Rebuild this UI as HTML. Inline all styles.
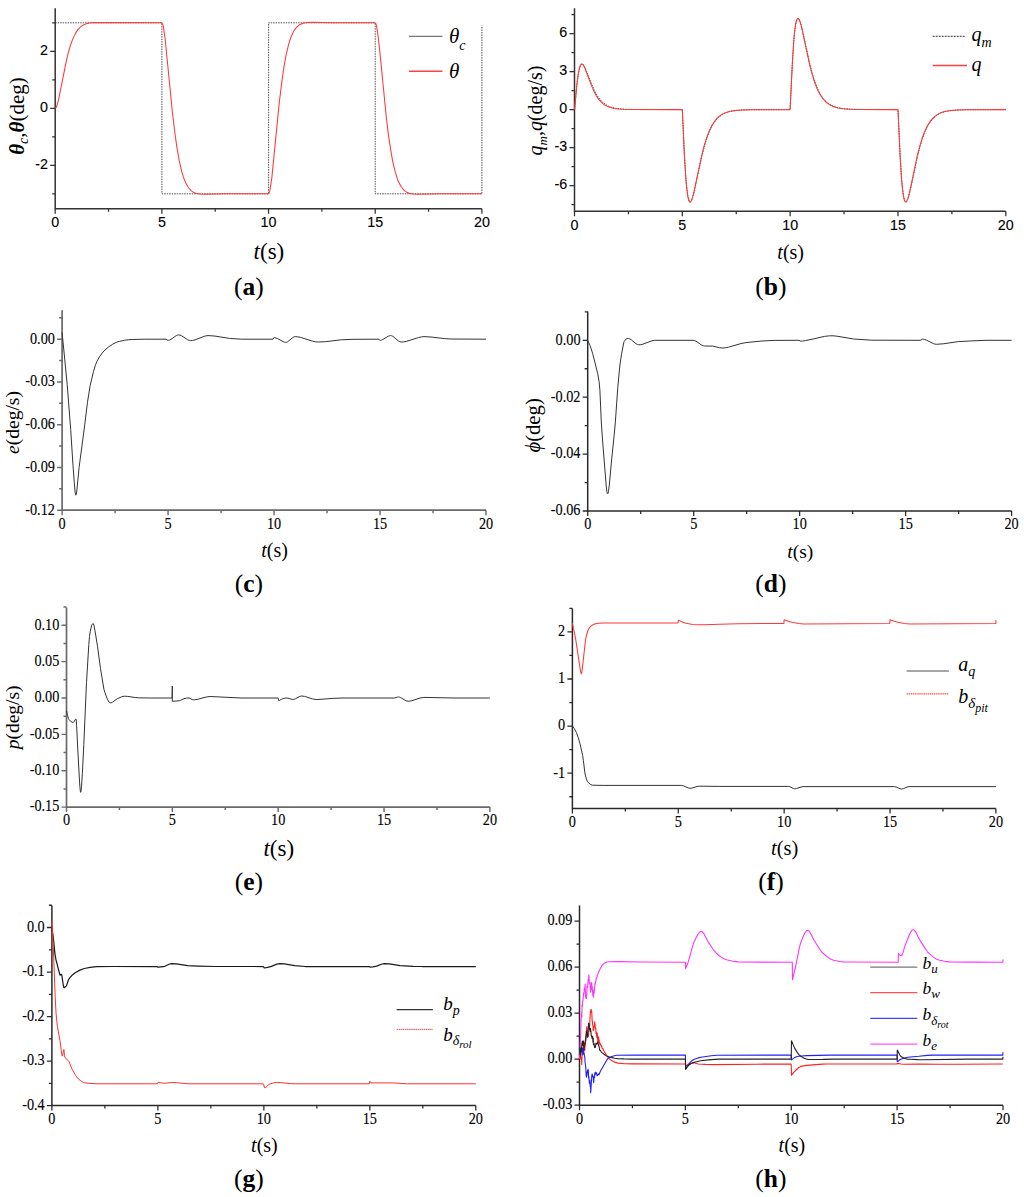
<!DOCTYPE html>
<html><head><meta charset="utf-8"><style>
html,body{margin:0;padding:0;background:#fff;}
svg{display:block;}
</style></head><body>
<svg width="1024" height="1197" viewBox="0 0 1024 1197">
<rect width="1024" height="1197" fill="#fff"/>
<path d="M55.20,8.20V209.45M54.45,208.70H481.90" stroke="#333" stroke-width="1.5" fill="none"/>
<path d="M55.20,165.30h-5M55.20,108.30h-5M55.20,51.30h-5M55.20,193.80h-3M55.20,136.80h-3M55.20,79.80h-3M55.20,22.80h-3M55.20,208.70v5M161.88,208.70v5M268.55,208.70v5M375.22,208.70v5M481.90,208.70v5M108.54,208.70v3M215.21,208.70v3M321.89,208.70v3M428.56,208.70v3" stroke="#333" stroke-width="1.27" fill="none"/>
<text transform="translate(47.90,168.60) scale(1,1)" text-anchor="end" font-family='"Liberation Sans", sans-serif' font-size="14.3" stroke="#000" stroke-width="0.12">-2</text>
<text transform="translate(47.90,111.60) scale(1,1)" text-anchor="end" font-family='"Liberation Sans", sans-serif' font-size="14.3" stroke="#000" stroke-width="0.12">0</text>
<text transform="translate(47.90,54.60) scale(1,1)" text-anchor="end" font-family='"Liberation Sans", sans-serif' font-size="14.3" stroke="#000" stroke-width="0.12">2</text>
<text transform="translate(55.20,227.00) scale(1,1)" text-anchor="middle" font-family='"Liberation Sans", sans-serif' font-size="14.3" stroke="#000" stroke-width="0.12">0</text>
<text transform="translate(161.88,227.00) scale(1,1)" text-anchor="middle" font-family='"Liberation Sans", sans-serif' font-size="14.3" stroke="#000" stroke-width="0.12">5</text>
<text transform="translate(268.55,227.00) scale(1,1)" text-anchor="middle" font-family='"Liberation Sans", sans-serif' font-size="14.3" stroke="#000" stroke-width="0.12">10</text>
<text transform="translate(375.22,227.00) scale(1,1)" text-anchor="middle" font-family='"Liberation Sans", sans-serif' font-size="14.3" stroke="#000" stroke-width="0.12">15</text>
<text transform="translate(481.90,227.00) scale(1,1)" text-anchor="middle" font-family='"Liberation Sans", sans-serif' font-size="14.3" stroke="#000" stroke-width="0.12">20</text>
<path d="M55.2,22.8L161.9,22.8L161.9,193.8L268.6,193.8L268.6,22.8L375.2,22.8L375.2,193.8L481.9,193.8L481.9,25.6" stroke="#333" stroke-width="0.85" fill="none" stroke-linejoin="round" stroke-dasharray="1.5,1"/>
<path d="M55.2,108.3L55.8,107.9L56.6,106.6L58.3,100.9L66.0,62.6L68.2,53.2L70.3,45.7L72.7,39.1L75.3,33.6L77.9,29.6L80.9,26.5L83.4,24.9L86.2,23.8L89.5,23.0L93.7,22.6L162.0,22.8L162.6,23.9L163.4,26.8L165.1,38.5L172.5,113.2L174.8,132.2L176.9,147.4L179.3,160.8L181.8,171.8L183.2,176.4L184.6,180.3L186.1,183.6L187.6,186.3L190.0,189.5L191.4,190.8L192.9,191.9L196.2,193.4L200.4,194.1L205.2,194.3L226.6,193.8L268.7,193.8L269.3,192.7L270.0,189.8L271.8,178.1L279.2,103.4L281.5,84.4L283.6,69.2L285.9,55.8L288.5,44.8L289.9,40.2L291.3,36.3L292.8,33.0L294.3,30.3L296.7,27.1L298.1,25.8L299.6,24.7L302.9,23.2L307.1,22.5L311.9,22.3L333.6,22.8L375.2,22.8L375.9,23.6L376.6,26.3L378.3,37.7L379.9,52.4L386.0,114.2L388.2,133.1L390.4,148.1L392.7,161.3L395.3,172.2L397.9,180.3L399.4,183.6L400.9,186.3L403.4,189.5L404.8,190.8L406.3,191.9L409.6,193.4L413.7,194.1L418.5,194.3L440.3,193.8L481.9,193.8" stroke="#ff3838" stroke-width="1.05" fill="none" stroke-linejoin="round"/>
<path d="M409,36.3H442.4" stroke="#555" stroke-width="1"/>
<path d="M409,71.3H442.4" stroke="#ff4040" stroke-width="1.4"/>
<text x="449" y="43" font-family='"Liberation Serif", serif' font-size="21" font-style="italic">θ<tspan font-size="14" dy="7">c</tspan></text>
<text x="449" y="78" font-family='"Liberation Serif", serif' font-size="21" font-style="italic">θ</text>
<text x="268.95" y="259.00" text-anchor="middle" font-family='"Liberation Serif", serif' font-size="23"><tspan font-style="italic">t</tspan>(s)</text>
<text x="248.85" y="294.90" text-anchor="middle" font-family='"Liberation Serif", serif' font-size="25.5">(<tspan font-weight="bold">a</tspan>)</text>
<text transform="translate(24.00,116.00) rotate(-90)" text-anchor="middle" font-family='"Liberation Serif", serif' font-size="21"><tspan font-style="italic" font-weight="bold">θ</tspan><tspan font-style="italic" font-size="14" dy="4">c</tspan><tspan dy="-4">,</tspan><tspan font-style="italic" font-weight="bold">θ</tspan>(deg)</text>
<path d="M574.50,8.20V212.05M573.75,211.30H1005.80" stroke="#333" stroke-width="1.5" fill="none"/>
<path d="M574.50,185.60h-5M574.50,147.60h-5M574.50,109.60h-5M574.50,71.60h-5M574.50,33.60h-5M574.50,204.60h-3M574.50,166.60h-3M574.50,128.60h-3M574.50,90.60h-3M574.50,52.60h-3M574.50,14.60h-3M574.50,211.30v5M682.33,211.30v5M790.15,211.30v5M897.97,211.30v5M1005.80,211.30v5M628.41,211.30v3M736.24,211.30v3M844.06,211.30v3M951.89,211.30v3" stroke="#333" stroke-width="1.27" fill="none"/>
<text transform="translate(567.20,188.90) scale(1,1)" text-anchor="end" font-family='"Liberation Sans", sans-serif' font-size="14.3" stroke="#000" stroke-width="0.12">-6</text>
<text transform="translate(567.20,150.90) scale(1,1)" text-anchor="end" font-family='"Liberation Sans", sans-serif' font-size="14.3" stroke="#000" stroke-width="0.12">-3</text>
<text transform="translate(567.20,112.90) scale(1,1)" text-anchor="end" font-family='"Liberation Sans", sans-serif' font-size="14.3" stroke="#000" stroke-width="0.12">0</text>
<text transform="translate(567.20,74.90) scale(1,1)" text-anchor="end" font-family='"Liberation Sans", sans-serif' font-size="14.3" stroke="#000" stroke-width="0.12">3</text>
<text transform="translate(567.20,36.90) scale(1,1)" text-anchor="end" font-family='"Liberation Sans", sans-serif' font-size="14.3" stroke="#000" stroke-width="0.12">6</text>
<text transform="translate(574.50,230.10) scale(1,1)" text-anchor="middle" font-family='"Liberation Sans", sans-serif' font-size="14.3" stroke="#000" stroke-width="0.12">0</text>
<text transform="translate(682.33,230.10) scale(1,1)" text-anchor="middle" font-family='"Liberation Sans", sans-serif' font-size="14.3" stroke="#000" stroke-width="0.12">5</text>
<text transform="translate(790.15,230.10) scale(1,1)" text-anchor="middle" font-family='"Liberation Sans", sans-serif' font-size="14.3" stroke="#000" stroke-width="0.12">10</text>
<text transform="translate(897.97,230.10) scale(1,1)" text-anchor="middle" font-family='"Liberation Sans", sans-serif' font-size="14.3" stroke="#000" stroke-width="0.12">15</text>
<text transform="translate(1005.80,230.10) scale(1,1)" text-anchor="middle" font-family='"Liberation Sans", sans-serif' font-size="14.3" stroke="#000" stroke-width="0.12">20</text>
<path d="M574.5,109.6L576.8,85.4L578.3,73.8L579.2,69.4L580.1,66.5L581.0,64.6L581.5,64.2L582.0,64.0L582.7,64.2L583.4,64.9L585.1,67.7L592.7,86.8L595.0,91.7L597.3,95.7L599.8,99.3L602.4,102.1L605.3,104.4L608.5,106.2L611.7,107.4L615.5,108.3L619.9,108.9L625.3,109.3L639.8,109.6L682.3,109.6L684.5,156.3L686.1,181.1L687.0,190.3L688.0,196.8L689.1,200.8L689.6,201.7L690.2,202.1L691.0,201.6L691.7,200.3L693.5,194.5L701.8,156.4L704.3,146.6L706.7,138.6L709.3,131.5L712.1,125.7L715.2,121.0L718.4,117.4L721.9,114.7L725.9,112.7L730.5,111.3L736.2,110.4L742.5,110.0L751.2,109.7L790.1,109.6L792.3,64.5L793.9,39.7L794.8,30.5L795.8,23.9L796.8,19.9L797.3,18.9L797.9,18.4L798.6,18.7L799.4,19.9L800.3,22.1L801.3,25.4L803.0,32.9L809.7,63.7L812.1,73.3L814.6,81.1L817.2,88.1L820.0,93.7L823.0,98.3L826.3,102.0L829.7,104.6L833.7,106.5L838.3,107.9L844.1,108.8L850.4,109.2L859.0,109.5L898.0,109.6L900.1,155.3L901.7,180.4L902.6,189.8L903.5,196.2L904.6,200.4L905.1,201.5L905.6,202.0L906.4,201.8L907.2,200.6L908.1,198.3L909.1,195.0L910.9,187.4L917.5,156.2L920.0,146.4L922.5,138.3L925.1,131.3L927.8,125.6L930.8,121.0L934.1,117.4L937.5,114.7L941.5,112.7L946.2,111.3L951.9,110.4L958.2,110.0L966.8,109.7L1005.8,109.6" stroke="#222" stroke-width="0.85" fill="none" stroke-linejoin="round" stroke-dasharray="1.5,1"/>
<path d="M574.5,109.6L576.9,84.8L578.3,73.8L579.1,69.5L579.9,66.4L580.9,64.6L581.3,64.1L581.8,64.0L582.5,64.2L583.2,64.9L584.7,67.7L592.1,87.1L594.3,92.0L596.4,96.0L598.9,99.6L601.4,102.4L604.2,104.7L607.3,106.4L610.4,107.6L614.0,108.4L618.3,109.0L623.6,109.3L637.7,109.6L682.3,109.6L684.4,155.9L686.0,181.1L687.0,190.4L687.9,196.9L689.0,200.8L689.5,201.7L690.1,202.1L690.8,201.6L691.6,200.2L693.4,194.6L701.5,156.4L703.9,146.7L706.4,138.6L709.0,131.4L711.8,125.7L714.8,120.9L718.1,117.2L721.5,114.6L725.5,112.7L730.1,111.3L735.8,110.4L742.1,109.9L750.7,109.7L790.1,109.6L792.3,64.0L793.8,39.8L794.7,30.4L795.6,24.0L796.7,20.0L797.2,18.9L797.8,18.4L798.5,18.7L799.3,19.9L800.1,22.1L801.1,25.4L802.8,32.7L809.4,63.6L811.9,73.4L814.3,81.3L816.9,88.3L819.7,94.0L822.7,98.5L825.9,102.1L829.4,104.7L833.3,106.6L838.0,107.9L843.6,108.8L849.9,109.3L858.5,109.5L898.0,109.6L900.1,155.9L901.6,180.4L902.6,189.9L903.5,196.4L904.4,200.3L905.0,201.5L905.5,202.0L905.9,202.0L906.3,201.8L907.1,200.6L907.9,198.4L908.9,195.0L910.6,187.6L917.2,156.2L919.7,146.3L922.1,138.3L924.8,131.2L927.5,125.5L930.5,120.9L933.8,117.2L937.2,114.6L941.2,112.6L945.8,111.3L951.5,110.4L957.8,109.9L966.3,109.7L1005.8,109.6" stroke="#ff3838" stroke-width="1.05" fill="none" stroke-linejoin="round"/>
<path d="M932.7,36.3H965" stroke="#333" stroke-width="1" stroke-dasharray="2,1"/>
<path d="M932.7,65.5H967" stroke="#ff4040" stroke-width="1.4"/>
<text x="971.4" y="41" font-family='"Liberation Serif", serif' font-size="20" font-style="italic">q<tspan font-size="14" dy="6">m</tspan></text>
<text x="971.4" y="71" font-family='"Liberation Serif", serif' font-size="20" font-style="italic">q</text>
<text x="790.70" y="259.40" text-anchor="middle" font-family='"Liberation Serif", serif' font-size="20"><tspan font-style="italic">t</tspan>(s)</text>
<text x="770.90" y="294.90" text-anchor="middle" font-family='"Liberation Serif", serif' font-size="25.5">(<tspan font-weight="bold">b</tspan>)</text>
<text transform="translate(541.50,110.50) rotate(-90)" text-anchor="middle" font-family='"Liberation Serif", serif' font-size="20"><tspan font-style="italic">q</tspan><tspan font-style="italic" font-size="13" dy="5">m</tspan><tspan dy="-5">,</tspan><tspan font-style="italic">q</tspan>(deg/s)</text>
<path d="M62.10,310.30V511.05M61.25,510.20H486.00" stroke="#6a6a6a" stroke-width="1.7" fill="none"/>
<path d="M62.10,339.20h-5M62.10,381.95h-5M62.10,424.70h-5M62.10,467.45h-5M62.10,510.20h-5M62.10,317.82h-3M62.10,360.57h-3M62.10,403.32h-3M62.10,446.07h-3M62.10,488.82h-3M62.10,510.20v5M168.07,510.20v5M274.05,510.20v5M380.03,510.20v5M486.00,510.20v5M115.09,510.20v3M221.06,510.20v3M327.04,510.20v3M433.01,510.20v3" stroke="#6a6a6a" stroke-width="1.44" fill="none"/>
<text transform="translate(54.90,343.50) scale(0.95,1.06)" text-anchor="end" font-family='"Liberation Serif", serif' font-size="15" stroke="#000" stroke-width="0.12">0.00</text>
<text transform="translate(54.90,386.25) scale(0.95,1.06)" text-anchor="end" font-family='"Liberation Serif", serif' font-size="15" stroke="#000" stroke-width="0.12">-0.03</text>
<text transform="translate(54.90,429.00) scale(0.95,1.06)" text-anchor="end" font-family='"Liberation Serif", serif' font-size="15" stroke="#000" stroke-width="0.12">-0.06</text>
<text transform="translate(54.90,471.75) scale(0.95,1.06)" text-anchor="end" font-family='"Liberation Serif", serif' font-size="15" stroke="#000" stroke-width="0.12">-0.09</text>
<text transform="translate(54.90,514.50) scale(0.95,1.06)" text-anchor="end" font-family='"Liberation Serif", serif' font-size="15" stroke="#000" stroke-width="0.12">-0.12</text>
<text transform="translate(62.10,528.50) scale(0.95,1.06)" text-anchor="middle" font-family='"Liberation Serif", serif' font-size="15" stroke="#000" stroke-width="0.12">0</text>
<text transform="translate(168.07,528.50) scale(0.95,1.06)" text-anchor="middle" font-family='"Liberation Serif", serif' font-size="15" stroke="#000" stroke-width="0.12">5</text>
<text transform="translate(274.05,528.50) scale(0.95,1.06)" text-anchor="middle" font-family='"Liberation Serif", serif' font-size="15" stroke="#000" stroke-width="0.12">10</text>
<text transform="translate(380.03,528.50) scale(0.95,1.06)" text-anchor="middle" font-family='"Liberation Serif", serif' font-size="15" stroke="#000" stroke-width="0.12">15</text>
<text transform="translate(486.00,528.50) scale(0.95,1.06)" text-anchor="middle" font-family='"Liberation Serif", serif' font-size="15" stroke="#000" stroke-width="0.12">20</text>
<path d="M62.1,332.5L67.2,384.4L70.7,429.6L73.0,465.5L74.3,482.8L75.1,491.9L75.5,494.5L75.8,495.2L76.2,494.6L76.8,491.1L79.1,467.4L84.7,425.2L87.4,402.8L90.2,385.3L93.5,371.5L95.2,365.8L96.9,361.4L99.4,356.9L102.1,353.1L105.1,349.8L108.3,347.1L112.8,344.1L116.9,342.1L119.2,341.4L124.6,340.3L128.5,339.7L132.3,339.5L144.1,339.2L166.0,339.2L167.7,340.2L168.5,340.3L169.7,340.0L170.9,339.4L176.3,335.6L177.6,335.1L178.7,334.9L180.0,335.1L181.3,335.6L187.6,339.7L189.2,340.4L190.4,340.6L192.6,340.5L195.0,339.9L204.9,336.1L207.0,335.7L209.0,335.6L215.0,336.1L229.5,338.4L241.5,339.2L273.0,339.2L273.8,337.7L274.3,337.5L277.4,338.5L283.2,341.7L284.4,342.2L285.7,342.3L286.7,342.2L287.7,341.7L292.8,337.6L294.1,336.9L295.2,336.6L297.6,336.8L300.3,337.3L312.7,341.2L315.7,341.8L318.4,342.0L325.3,341.7L341.3,339.8L353.0,339.3L379.0,339.2L379.8,340.3L380.4,340.3L381.5,340.1L382.8,339.5L388.3,336.2L389.5,335.8L390.6,335.6L391.7,335.8L392.9,336.4L398.5,341.0L399.8,341.7L401.1,342.0L403.6,341.9L406.3,341.4L418.4,337.6L421.4,336.9L423.9,336.6L430.9,337.0L444.4,338.6L450.1,339.0L486.0,339.2" stroke="#333" stroke-width="1.0" fill="none" stroke-linejoin="round"/>
<text x="274.50" y="556.70" text-anchor="middle" font-family='"Liberation Serif", serif' font-size="20"><tspan font-style="italic">t</tspan>(s)</text>
<text x="248.85" y="591.90" text-anchor="middle" font-family='"Liberation Serif", serif' font-size="25.5">(<tspan font-weight="bold">c</tspan>)</text>
<text transform="translate(19.30,422.50) rotate(-90)" text-anchor="middle" font-family='"Liberation Serif", serif' font-size="19.5"><tspan font-style="italic">e</tspan>(deg/s)</text>
<path d="M587.70,311.60V511.75M586.95,511.00H1011.60" stroke="#2a2a2a" stroke-width="1.5" fill="none"/>
<path d="M587.70,340.30h-5M587.70,397.20h-5M587.70,454.10h-5M587.70,511.00h-5M587.70,311.85h-3M587.70,368.75h-3M587.70,425.65h-3M587.70,482.55h-3M587.70,511.00v5M693.68,511.00v5M799.65,511.00v5M905.62,511.00v5M1011.60,511.00v5M640.69,511.00v3M746.66,511.00v3M852.64,511.00v3M958.61,511.00v3" stroke="#2a2a2a" stroke-width="1.27" fill="none"/>
<text transform="translate(580.50,344.60) scale(0.95,1.06)" text-anchor="end" font-family='"Liberation Serif", serif' font-size="15" stroke="#000" stroke-width="0.12">0.00</text>
<text transform="translate(580.50,401.50) scale(0.95,1.06)" text-anchor="end" font-family='"Liberation Serif", serif' font-size="15" stroke="#000" stroke-width="0.12">-0.02</text>
<text transform="translate(580.50,458.40) scale(0.95,1.06)" text-anchor="end" font-family='"Liberation Serif", serif' font-size="15" stroke="#000" stroke-width="0.12">-0.04</text>
<text transform="translate(580.50,515.30) scale(0.95,1.06)" text-anchor="end" font-family='"Liberation Serif", serif' font-size="15" stroke="#000" stroke-width="0.12">-0.06</text>
<text transform="translate(587.70,529.30) scale(0.95,1.06)" text-anchor="middle" font-family='"Liberation Serif", serif' font-size="15" stroke="#000" stroke-width="0.12">0</text>
<text transform="translate(693.68,529.30) scale(0.95,1.06)" text-anchor="middle" font-family='"Liberation Serif", serif' font-size="15" stroke="#000" stroke-width="0.12">5</text>
<text transform="translate(799.65,529.30) scale(0.95,1.06)" text-anchor="middle" font-family='"Liberation Serif", serif' font-size="15" stroke="#000" stroke-width="0.12">10</text>
<text transform="translate(905.62,529.30) scale(0.95,1.06)" text-anchor="middle" font-family='"Liberation Serif", serif' font-size="15" stroke="#000" stroke-width="0.12">15</text>
<text transform="translate(1011.60,529.30) scale(0.95,1.06)" text-anchor="middle" font-family='"Liberation Serif", serif' font-size="15" stroke="#000" stroke-width="0.12">20</text>
<path d="M587.7,340.3L590.1,345.6L592.6,353.3L597.7,373.5L599.1,381.6L599.9,390.2L601.3,422.0L602.3,436.9L606.2,485.8L606.9,491.7L607.3,493.6L607.6,493.9L608.1,493.3L608.5,491.5L609.3,485.1L611.7,458.9L614.1,435.8L615.3,422.9L617.8,387.2L619.9,365.0L621.5,354.4L623.7,342.9L624.2,341.5L625.0,340.3L626.1,339.0L627.1,338.4L628.4,338.4L630.0,339.0L631.5,340.0L636.0,343.7L637.5,344.5L638.7,344.8L640.6,344.7L642.5,344.3L651.0,341.1L654.7,340.3L693.1,340.3L694.4,340.5L695.8,341.1L701.2,344.8L703.5,345.8L704.6,346.0L712.7,346.1L719.6,347.7L722.3,348.0L725.2,347.8L728.5,347.2L740.8,343.6L745.9,342.6L761.8,341.0L774.3,340.4L799.0,340.3L800.6,341.1L802.3,341.1L805.5,340.6L814.0,338.8L824.3,336.4L829.7,335.8L833.1,335.8L836.9,336.2L853.7,339.0L871.8,340.2L920.4,340.3L921.0,340.1L922.3,339.2L923.1,339.2L924.7,339.5L926.4,340.1L933.4,343.6L935.0,344.1L936.4,344.3L943.2,343.8L958.3,341.6L969.2,341.0L986.0,340.3L1011.6,340.3" stroke="#333" stroke-width="1.0" fill="none" stroke-linejoin="round"/>
<text x="800.30" y="557.70" text-anchor="middle" font-family='"Liberation Serif", serif' font-size="19.5"><tspan font-style="italic">t</tspan>(s)</text>
<text x="770.90" y="591.90" text-anchor="middle" font-family='"Liberation Serif", serif' font-size="25.5">(<tspan font-weight="bold">d</tspan>)</text>
<text transform="translate(539.50,425.40) rotate(-90)" text-anchor="middle" font-family='"Liberation Serif", serif' font-size="20.7"><tspan font-style="italic">ϕ</tspan>(deg)</text>
<path d="M66.50,607.40V807.95M65.65,807.10H489.90" stroke="#6a6a6a" stroke-width="1.7" fill="none"/>
<path d="M66.50,625.27h-5M66.50,661.63h-5M66.50,698.00h-5M66.50,734.37h-5M66.50,770.73h-5M66.50,807.10h-5M66.50,607.08h-3M66.50,643.45h-3M66.50,679.82h-3M66.50,716.18h-3M66.50,752.55h-3M66.50,788.92h-3M66.50,807.10v5M172.35,807.10v5M278.20,807.10v5M384.05,807.10v5M489.90,807.10v5M119.42,807.10v3M225.28,807.10v3M331.12,807.10v3M436.98,807.10v3" stroke="#6a6a6a" stroke-width="1.44" fill="none"/>
<text transform="translate(59.30,629.57) scale(0.95,1.06)" text-anchor="end" font-family='"Liberation Serif", serif' font-size="15" stroke="#000" stroke-width="0.12">0.10</text>
<text transform="translate(59.30,665.93) scale(0.95,1.06)" text-anchor="end" font-family='"Liberation Serif", serif' font-size="15" stroke="#000" stroke-width="0.12">0.05</text>
<text transform="translate(59.30,702.30) scale(0.95,1.06)" text-anchor="end" font-family='"Liberation Serif", serif' font-size="15" stroke="#000" stroke-width="0.12">0.00</text>
<text transform="translate(59.30,738.67) scale(0.95,1.06)" text-anchor="end" font-family='"Liberation Serif", serif' font-size="15" stroke="#000" stroke-width="0.12">-0.05</text>
<text transform="translate(59.30,775.03) scale(0.95,1.06)" text-anchor="end" font-family='"Liberation Serif", serif' font-size="15" stroke="#000" stroke-width="0.12">-0.10</text>
<text transform="translate(59.30,811.40) scale(0.95,1.06)" text-anchor="end" font-family='"Liberation Serif", serif' font-size="15" stroke="#000" stroke-width="0.12">-0.15</text>
<text transform="translate(66.50,825.40) scale(0.95,1.06)" text-anchor="middle" font-family='"Liberation Serif", serif' font-size="15" stroke="#000" stroke-width="0.12">0</text>
<text transform="translate(172.35,825.40) scale(0.95,1.06)" text-anchor="middle" font-family='"Liberation Serif", serif' font-size="15" stroke="#000" stroke-width="0.12">5</text>
<text transform="translate(278.20,825.40) scale(0.95,1.06)" text-anchor="middle" font-family='"Liberation Serif", serif' font-size="15" stroke="#000" stroke-width="0.12">10</text>
<text transform="translate(384.05,825.40) scale(0.95,1.06)" text-anchor="middle" font-family='"Liberation Serif", serif' font-size="15" stroke="#000" stroke-width="0.12">15</text>
<text transform="translate(489.90,825.40) scale(0.95,1.06)" text-anchor="middle" font-family='"Liberation Serif", serif' font-size="15" stroke="#000" stroke-width="0.12">20</text>
<path d="M66.5,710.8L67.6,715.6L68.5,718.4L69.0,719.5L70.7,721.4L72.1,722.2L73.3,722.4L73.9,721.8L75.5,719.3L76.0,718.9L76.2,719.3L76.6,725.2L77.8,749.8L79.6,782.9L80.3,791.1L80.6,792.3L80.7,792.3L80.9,792.0L81.5,786.8L82.4,773.3L83.8,744.5L86.5,682.5L88.8,644.6L89.5,636.3L90.3,631.2L91.7,625.3L92.4,623.9L92.9,623.4L93.4,623.8L93.9,625.2L95.0,630.8L97.5,646.2L100.5,668.7L103.9,689.1L104.8,692.3L107.4,699.3L108.9,701.9L109.5,702.6L110.1,702.9L111.1,702.8L112.3,702.3L117.2,698.8L121.6,696.8L124.2,696.2L127.7,696.4L135.1,697.5L138.3,697.8L149.2,698.0L172.1,698.0L172.3,686.0L172.3,701.3L179.1,700.8L180.4,700.4L184.0,698.6L186.6,698.1L189.1,698.0L192.7,699.7L194.6,699.8L198.2,699.2L206.3,697.0L210.1,696.5L241.1,698.0L278.2,698.0L278.6,700.5L279.3,700.5L281.2,699.4L283.1,698.6L285.9,698.0L287.9,698.1L292.1,699.4L293.8,699.4L295.6,698.7L299.5,696.5L301.4,696.0L304.6,696.4L312.5,698.9L316.2,699.5L321.1,699.3L332.1,698.4L343.0,698.0L394.7,698.0L397.5,697.1L398.4,697.0L399.6,697.2L400.8,697.7L406.1,700.8L408.2,701.3L411.7,700.8L420.0,698.0L423.8,697.4L454.9,698.0L489.9,698.0" stroke="#333" stroke-width="1.0" fill="none" stroke-linejoin="round"/>
<text x="278.80" y="855.50" text-anchor="middle" font-family='"Liberation Serif", serif' font-size="23"><tspan font-style="italic">t</tspan>(s)</text>
<text x="248.85" y="889.80" text-anchor="middle" font-family='"Liberation Serif", serif' font-size="25.5">(<tspan font-weight="bold">e</tspan>)</text>
<text transform="translate(18.70,717.40) rotate(-90)" text-anchor="middle" font-family='"Liberation Serif", serif' font-size="19.5"><tspan font-style="italic">p</tspan>(deg/s)</text>
<path d="M572.40,608.50V809.25M571.65,808.50H995.90" stroke="#2a2a2a" stroke-width="1.5" fill="none"/>
<path d="M572.40,631.90h-5M572.40,679.00h-5M572.40,726.10h-5M572.40,773.20h-5M572.40,608.35h-3M572.40,655.45h-3M572.40,702.55h-3M572.40,749.65h-3M572.40,796.75h-3M572.40,808.50v5M678.27,808.50v5M784.15,808.50v5M890.02,808.50v5M995.90,808.50v5M625.34,808.50v3M731.21,808.50v3M837.09,808.50v3M942.96,808.50v3" stroke="#2a2a2a" stroke-width="1.27" fill="none"/>
<text transform="translate(565.20,636.20) scale(0.95,1.06)" text-anchor="end" font-family='"Liberation Serif", serif' font-size="15" stroke="#000" stroke-width="0.12">2</text>
<text transform="translate(565.20,683.30) scale(0.95,1.06)" text-anchor="end" font-family='"Liberation Serif", serif' font-size="15" stroke="#000" stroke-width="0.12">1</text>
<text transform="translate(565.20,730.40) scale(0.95,1.06)" text-anchor="end" font-family='"Liberation Serif", serif' font-size="15" stroke="#000" stroke-width="0.12">0</text>
<text transform="translate(565.20,777.50) scale(0.95,1.06)" text-anchor="end" font-family='"Liberation Serif", serif' font-size="15" stroke="#000" stroke-width="0.12">-1</text>
<text transform="translate(572.40,826.80) scale(0.95,1.06)" text-anchor="middle" font-family='"Liberation Serif", serif' font-size="15" stroke="#000" stroke-width="0.12">0</text>
<text transform="translate(678.27,826.80) scale(0.95,1.06)" text-anchor="middle" font-family='"Liberation Serif", serif' font-size="15" stroke="#000" stroke-width="0.12">5</text>
<text transform="translate(784.15,826.80) scale(0.95,1.06)" text-anchor="middle" font-family='"Liberation Serif", serif' font-size="15" stroke="#000" stroke-width="0.12">10</text>
<text transform="translate(890.02,826.80) scale(0.95,1.06)" text-anchor="middle" font-family='"Liberation Serif", serif' font-size="15" stroke="#000" stroke-width="0.12">15</text>
<text transform="translate(995.90,826.80) scale(0.95,1.06)" text-anchor="middle" font-family='"Liberation Serif", serif' font-size="15" stroke="#000" stroke-width="0.12">20</text>
<path d="M572.4,623.4L574.0,630.5L575.7,639.4L580.5,671.0L580.9,673.0L581.3,673.8L581.7,673.0L582.2,669.7L585.5,640.1L586.6,635.1L587.7,631.0L589.1,628.2L590.5,626.6L592.1,625.2L594.5,624.0L598.6,623.3L604.0,623.0L678.1,623.0L678.3,620.1L682.9,622.3L686.0,623.3L692.8,624.4L698.1,624.8L704.4,624.8L719.6,624.2L738.0,623.7L783.9,623.4L784.1,619.7L788.4,621.3L791.9,622.3L798.6,623.4L803.9,623.9L889.8,623.4L890.0,619.7L894.3,621.3L897.8,622.3L904.5,623.4L909.8,623.9L995.9,623.4L995.9,620.1" stroke="#ff3838" stroke-width="1.05" fill="none" stroke-linejoin="round"/>
<path d="M572.4,726.1L574.3,728.6L576.4,732.6L578.1,737.2L580.0,743.7L582.6,755.3L583.4,760.6L584.9,772.9L585.3,775.1L586.4,778.8L587.4,781.4L588.3,782.6L590.6,784.5L592.5,785.2L603.1,785.4L681.5,785.4L683.6,785.9L688.1,787.9L690.0,788.3L692.1,788.0L697.0,786.5L699.3,786.2L719.9,786.4L788.5,786.4L790.0,786.8L793.4,788.5L794.6,788.7L796.5,788.5L801.0,787.0L803.1,786.6L894.4,786.6L896.1,787.0L900.1,788.7L901.6,789.0L903.3,788.7L907.1,787.0L909.0,786.6L995.9,786.6" stroke="#333" stroke-width="1.0" fill="none" stroke-linejoin="round"/>
<path d="M906.7,671H948.9" stroke="#888" stroke-width="1.3"/>
<path d="M906.7,693.9H948.9" stroke="#ff5050" stroke-width="1.1" stroke-dasharray="1.5,0.6"/>
<text x="958.3" y="670.7" font-family='"Liberation Serif", serif' font-size="20" font-style="italic">a<tspan font-size="14" dy="5">q</tspan></text>
<text x="958.3" y="703.3" font-family='"Liberation Serif", serif' font-size="20" font-style="italic">b<tspan font-size="15" dy="5">δ</tspan><tspan font-size="12" dy="4">pit</tspan></text>
<text x="784.70" y="854.60" text-anchor="middle" font-family='"Liberation Serif", serif' font-size="20.5"><tspan font-style="italic">t</tspan>(s)</text>
<text x="770.90" y="889.80" text-anchor="middle" font-family='"Liberation Serif", serif' font-size="25.5">(<tspan font-weight="bold">f</tspan>)</text>
<text transform="translate(540.00,708.00) rotate(-90)" text-anchor="middle" font-family='"Liberation Serif", serif' font-size="19.5"></text>
<path d="M51.90,905.60V1106.35M51.15,1105.60H475.80" stroke="#2a2a2a" stroke-width="1.5" fill="none"/>
<path d="M51.90,927.50h-5M51.90,972.02h-5M51.90,1016.55h-5M51.90,1061.07h-5M51.90,1105.60h-5M51.90,905.24h-3M51.90,949.76h-3M51.90,994.29h-3M51.90,1038.81h-3M51.90,1083.34h-3M51.90,1105.60v5M157.88,1105.60v5M263.85,1105.60v5M369.83,1105.60v5M475.80,1105.60v5M104.89,1105.60v3M210.86,1105.60v3M316.84,1105.60v3M422.81,1105.60v3" stroke="#2a2a2a" stroke-width="1.27" fill="none"/>
<text transform="translate(44.70,931.80) scale(0.95,1.06)" text-anchor="end" font-family='"Liberation Serif", serif' font-size="15" stroke="#000" stroke-width="0.12">0.0</text>
<text transform="translate(44.70,976.32) scale(0.95,1.06)" text-anchor="end" font-family='"Liberation Serif", serif' font-size="15" stroke="#000" stroke-width="0.12">-0.1</text>
<text transform="translate(44.70,1020.85) scale(0.95,1.06)" text-anchor="end" font-family='"Liberation Serif", serif' font-size="15" stroke="#000" stroke-width="0.12">-0.2</text>
<text transform="translate(44.70,1065.37) scale(0.95,1.06)" text-anchor="end" font-family='"Liberation Serif", serif' font-size="15" stroke="#000" stroke-width="0.12">-0.3</text>
<text transform="translate(44.70,1109.90) scale(0.95,1.06)" text-anchor="end" font-family='"Liberation Serif", serif' font-size="15" stroke="#000" stroke-width="0.12">-0.4</text>
<text transform="translate(51.90,1123.90) scale(0.95,1.06)" text-anchor="middle" font-family='"Liberation Serif", serif' font-size="15" stroke="#000" stroke-width="0.12">0</text>
<text transform="translate(157.88,1123.90) scale(0.95,1.06)" text-anchor="middle" font-family='"Liberation Serif", serif' font-size="15" stroke="#000" stroke-width="0.12">5</text>
<text transform="translate(263.85,1123.90) scale(0.95,1.06)" text-anchor="middle" font-family='"Liberation Serif", serif' font-size="15" stroke="#000" stroke-width="0.12">10</text>
<text transform="translate(369.83,1123.90) scale(0.95,1.06)" text-anchor="middle" font-family='"Liberation Serif", serif' font-size="15" stroke="#000" stroke-width="0.12">15</text>
<text transform="translate(475.80,1123.90) scale(0.95,1.06)" text-anchor="middle" font-family='"Liberation Serif", serif' font-size="15" stroke="#000" stroke-width="0.12">20</text>
<path d="M51.9,927.5L53.5,939.2L54.9,953.6L55.9,959.4L59.7,974.1L60.2,975.1L60.5,975.1L61.4,974.3L61.8,975.0L63.3,985.5L63.8,987.4L64.1,987.6L65.0,987.1L66.5,985.6L68.4,980.0L70.0,977.6L72.4,974.9L75.2,972.7L79.9,970.1L84.3,968.5L90.2,967.4L96.4,966.7L112.5,966.5L157.2,966.5L157.8,967.1L158.8,967.1L164.8,966.3L169.6,964.0L171.6,963.6L176.3,963.9L187.7,965.7L198.2,966.1L216.3,966.5L263.4,966.5L264.3,968.0L267.7,967.4L271.4,966.3L276.9,964.1L279.8,963.6L284.3,963.9L294.7,965.7L305.5,966.5L369.4,966.5L370.1,967.1L370.6,967.1L372.9,966.9L376.6,966.1L382.2,964.0L384.6,963.6L389.2,963.9L400.2,965.7L413.2,966.3L422.1,966.5L475.8,966.5" stroke="#1a1a1a" stroke-width="1.25" fill="none" stroke-linejoin="round"/>
<path d="M51.9,921.3L53.3,947.0L55.2,997.1L56.1,1013.9L57.4,1026.5L60.0,1040.6L61.8,1054.9L62.2,1056.2L62.5,1055.9L63.5,1050.9L63.9,1049.5L64.5,1055.6L64.8,1057.0L65.8,1058.6L68.0,1060.3L68.9,1061.4L72.1,1069.3L74.7,1073.9L76.6,1076.9L78.3,1078.9L81.3,1081.3L83.7,1082.6L85.0,1082.9L89.6,1083.4L97.8,1083.8L157.3,1083.8L157.9,1082.4L164.3,1083.3L172.8,1082.4L176.4,1082.6L185.2,1083.6L189.1,1083.8L263.4,1083.8L263.6,1084.2L264.5,1087.8L265.2,1087.6L266.0,1087.2L268.9,1084.6L270.0,1083.9L273.7,1082.8L276.4,1082.4L280.7,1082.6L290.6,1083.6L295.0,1083.8L369.4,1083.8L369.8,1081.2L369.9,1081.2L370.6,1082.6L370.9,1082.9L392.4,1082.9L407.5,1083.8L475.8,1083.8" stroke="#ff3030" stroke-width="1.0" fill="none" stroke-linejoin="round"/>
<path d="M396.6,1009.6H432.9" stroke="#333" stroke-width="1.2"/>
<path d="M396.6,1029.4H432.9" stroke="#ff4040" stroke-width="1" stroke-dasharray="1.5,0.6"/>
<text x="443.2" y="1009.9" font-family='"Liberation Serif", serif' font-size="19" font-style="italic">b<tspan font-size="14" dy="5">p</tspan></text>
<text x="443.2" y="1040.5" font-family='"Liberation Serif", serif' font-size="19" font-style="italic">b<tspan font-size="14" dy="4">δ</tspan><tspan font-size="11" dy="3">rol</tspan></text>
<text x="264.40" y="1151.60" text-anchor="middle" font-family='"Liberation Serif", serif' font-size="20"><tspan font-style="italic">t</tspan>(s)</text>
<text x="248.85" y="1187.10" text-anchor="middle" font-family='"Liberation Serif", serif' font-size="25.5">(<tspan font-weight="bold">g</tspan>)</text>
<path d="M579.50,905.60V1106.05M578.75,1105.30H1003.00" stroke="#2a2a2a" stroke-width="1.5" fill="none"/>
<path d="M579.50,921.10h-5M579.50,967.10h-5M579.50,1013.10h-5M579.50,1059.10h-5M579.50,1105.10h-5M579.50,944.10h-3M579.50,990.10h-3M579.50,1036.10h-3M579.50,1082.10h-3M579.50,1105.30v5M685.38,1105.30v5M791.25,1105.30v5M897.12,1105.30v5M1003.00,1105.30v5M632.44,1105.30v3M738.31,1105.30v3M844.19,1105.30v3M950.06,1105.30v3" stroke="#2a2a2a" stroke-width="1.27" fill="none"/>
<text transform="translate(572.30,925.40) scale(0.95,1.06)" text-anchor="end" font-family='"Liberation Serif", serif' font-size="15" stroke="#000" stroke-width="0.12">0.09</text>
<text transform="translate(572.30,971.40) scale(0.95,1.06)" text-anchor="end" font-family='"Liberation Serif", serif' font-size="15" stroke="#000" stroke-width="0.12">0.06</text>
<text transform="translate(572.30,1017.40) scale(0.95,1.06)" text-anchor="end" font-family='"Liberation Serif", serif' font-size="15" stroke="#000" stroke-width="0.12">0.03</text>
<text transform="translate(572.30,1063.40) scale(0.95,1.06)" text-anchor="end" font-family='"Liberation Serif", serif' font-size="15" stroke="#000" stroke-width="0.12">0.00</text>
<text transform="translate(572.30,1109.40) scale(0.95,1.06)" text-anchor="end" font-family='"Liberation Serif", serif' font-size="15" stroke="#000" stroke-width="0.12">-0.03</text>
<text transform="translate(579.50,1123.60) scale(0.95,1.06)" text-anchor="middle" font-family='"Liberation Serif", serif' font-size="15" stroke="#000" stroke-width="0.12">0</text>
<text transform="translate(685.38,1123.60) scale(0.95,1.06)" text-anchor="middle" font-family='"Liberation Serif", serif' font-size="15" stroke="#000" stroke-width="0.12">5</text>
<text transform="translate(791.25,1123.60) scale(0.95,1.06)" text-anchor="middle" font-family='"Liberation Serif", serif' font-size="15" stroke="#000" stroke-width="0.12">10</text>
<text transform="translate(897.12,1123.60) scale(0.95,1.06)" text-anchor="middle" font-family='"Liberation Serif", serif' font-size="15" stroke="#000" stroke-width="0.12">15</text>
<text transform="translate(1003.00,1123.60) scale(0.95,1.06)" text-anchor="middle" font-family='"Liberation Serif", serif' font-size="15" stroke="#000" stroke-width="0.12">20</text>
<path d="M579.5,1059.0L580.0,1047.1L580.3,1044.6L581.0,1022.9L581.5,1012.7L581.8,1017.1L582.0,1004.9L582.3,1006.8L582.5,1001.9L582.8,1001.4L583.1,999.3L583.6,992.8L583.8,994.2L584.1,992.5L584.3,988.2L584.6,990.2L584.8,989.7L585.1,984.0L585.6,997.0L585.9,997.3L586.1,998.7L586.4,998.6L586.6,997.2L587.1,986.3L587.4,987.4L587.6,987.1L588.1,979.6L588.4,980.6L588.9,974.7L589.4,983.5L589.7,982.2L589.9,984.3L590.2,983.8L590.4,992.3L590.9,988.9L591.2,989.7L591.4,982.9L591.7,982.5L592.0,989.1L592.2,986.3L592.7,994.5L593.0,995.9L593.2,992.8L593.5,997.3L593.7,990.7L594.0,989.2L594.2,993.1L594.5,986.9L594.7,986.8L595.0,983.4L595.3,984.3L595.8,980.2L596.0,980.7L596.3,977.9L596.5,978.1L596.8,976.7L597.0,977.1L597.3,974.9L597.8,974.7L598.6,971.8L598.8,972.2L599.1,971.0L599.4,970.2L600.9,967.2L602.0,965.4L602.8,964.5L604.4,963.3L605.8,962.5L607.0,962.0L608.5,961.7L618.7,961.6L642.2,962.0L685.4,962.2L685.6,968.6L687.4,964.3L688.9,959.8L692.3,947.1L693.5,943.3L696.2,937.6L697.9,934.3L699.5,932.3L700.2,931.7L700.9,931.4L701.5,931.4L702.2,931.7L703.6,933.3L708.3,942.1L713.3,949.5L715.8,952.7L717.7,954.5L721.2,957.1L723.9,958.7L726.5,959.8L732.7,961.3L737.8,961.9L762.3,962.1L792.3,962.2L792.5,979.7L795.7,966.3L799.0,949.4L800.4,943.7L802.8,937.4L804.7,933.3L806.3,931.0L807.0,930.5L807.7,930.3L808.2,930.4L808.8,930.7L809.8,932.0L814.3,940.7L819.8,949.3L821.3,951.5L822.7,953.0L827.3,956.9L830.9,959.2L833.6,960.2L839.8,961.5L843.3,961.9L850.5,962.0L898.2,962.2L898.4,953.3L899.3,954.7L900.1,955.4L901.4,955.6L901.7,955.4L902.1,955.0L902.9,952.9L905.2,945.1L909.4,934.8L910.4,932.6L911.5,930.9L912.3,930.0L913.2,929.7L913.7,929.8L914.3,930.1L915.5,931.6L920.0,940.4L925.1,948.4L927.5,951.8L929.8,954.1L933.4,957.1L936.2,958.9L938.7,960.0L944.6,961.3L949.5,961.9L973.3,962.1L1002.8,962.2L1003.0,959.4" stroke="#ff33ff" stroke-width="1.1" fill="none" stroke-linejoin="round"/>
<path d="M579.5,1054.5L579.8,1053.9L580.0,1054.1L580.3,1058.7L580.5,1055.6L580.8,1057.8L581.0,1057.6L581.3,1059.7L581.5,1058.7L581.8,1064.5L582.0,1055.9L582.3,1054.1L582.5,1055.3L582.8,1049.3L583.1,1046.8L583.3,1048.8L583.6,1041.2L583.8,1045.7L584.6,1050.9L585.1,1044.8L585.3,1046.1L585.6,1040.7L585.9,1040.7L586.1,1038.2L586.6,1028.5L586.9,1026.6L587.6,1036.1L587.9,1036.2L588.1,1036.6L588.4,1036.5L589.2,1023.6L589.4,1028.5L589.7,1025.7L590.2,1014.3L590.4,1014.2L590.7,1009.8L590.9,1011.0L591.2,1009.6L591.4,1011.6L591.7,1011.3L592.2,1021.3L592.5,1021.3L592.7,1025.3L593.0,1025.8L593.2,1030.5L593.5,1030.1L593.7,1030.1L594.0,1026.9L594.2,1026.7L594.5,1025.5L594.7,1021.7L595.5,1028.8L595.8,1028.4L596.0,1033.6L596.3,1031.9L596.5,1032.5L596.8,1037.4L597.0,1033.3L597.3,1033.2L597.8,1042.0L598.0,1043.0L598.6,1036.9L598.8,1039.9L599.1,1040.2L599.6,1043.8L599.8,1042.5L600.1,1045.1L600.6,1043.9L600.8,1045.0L601.1,1045.0L601.4,1046.5L601.6,1046.0L601.9,1046.7L602.1,1048.7L602.4,1048.6L602.6,1048.9L602.9,1048.7L604.7,1052.4L607.6,1057.0L609.3,1058.9L612.4,1061.0L615.3,1062.4L618.1,1063.1L624.9,1063.7L633.4,1063.9L685.4,1064.0L685.6,1066.0L687.5,1064.7L689.0,1063.9L691.5,1063.2L693.6,1062.9L694.7,1063.0L698.1,1064.0L705.7,1064.4L713.5,1064.6L756.7,1064.2L791.2,1064.0L791.5,1075.2L794.2,1071.9L797.2,1069.0L798.9,1067.5L800.4,1066.6L803.3,1065.9L806.9,1065.4L822.4,1064.1L827.0,1064.0L897.1,1064.0L897.3,1063.4L901.1,1064.0L903.5,1064.2L918.9,1064.0L937.5,1064.3L960.1,1064.3L1002.8,1064.0" stroke="#ff2020" stroke-width="1.1" fill="none" stroke-linejoin="round"/>
<path d="M579.5,1051.8L579.8,1049.3L580.0,1050.9L580.3,1050.7L580.5,1055.9L580.8,1049.2L581.3,1051.5L581.5,1050.4L582.0,1050.9L582.3,1048.0L582.8,1054.2L583.1,1054.1L583.3,1048.3L583.8,1054.3L584.1,1052.7L584.3,1055.1L584.8,1057.2L585.1,1062.4L585.3,1063.5L585.9,1068.6L586.1,1075.0L586.4,1077.2L586.6,1072.8L586.9,1075.9L587.4,1070.7L587.9,1072.9L588.1,1069.3L588.4,1071.4L588.6,1078.1L588.9,1076.6L589.4,1083.2L589.9,1080.4L590.2,1086.3L590.4,1084.8L590.7,1092.8L591.7,1076.6L592.0,1074.5L592.2,1074.0L592.5,1076.8L592.7,1076.0L593.0,1075.8L593.7,1082.7L594.0,1077.0L594.2,1077.0L594.5,1077.6L594.7,1074.1L595.0,1072.7L595.5,1074.3L595.8,1072.0L596.0,1073.1L596.3,1072.6L597.0,1075.5L597.3,1075.3L597.5,1075.6L597.8,1074.8L598.0,1074.7L598.3,1073.9L598.6,1073.9L598.8,1074.8L599.1,1074.0L599.3,1074.2L600.1,1071.9L600.8,1070.4L606.5,1060.4L607.8,1058.6L608.9,1057.8L612.0,1056.5L614.4,1055.7L616.7,1055.3L635.2,1055.1L685.4,1055.1L685.6,1069.2L687.7,1065.5L689.4,1063.2L692.2,1060.5L694.3,1059.2L698.1,1057.9L702.5,1057.0L711.4,1055.7L716.7,1055.2L791.2,1055.1L791.5,1059.9L794.8,1057.4L797.0,1056.5L801.0,1056.0L806.7,1055.6L830.4,1055.1L897.1,1055.1L897.3,1061.7L899.5,1060.1L900.9,1059.3L903.7,1058.2L906.4,1057.5L910.2,1057.0L918.9,1056.3L927.3,1055.4L932.8,1055.1L1002.8,1055.1L1003.0,1052.2" stroke="#2020ff" stroke-width="1.1" fill="none" stroke-linejoin="round"/>
<path d="M579.5,1048.3L579.8,1047.0L580.0,1053.9L580.3,1048.3L580.8,1054.4L581.3,1051.4L581.8,1044.3L582.3,1041.2L582.5,1044.6L582.8,1045.4L583.1,1040.7L583.3,1042.8L583.6,1041.5L584.1,1049.5L584.3,1044.5L584.8,1043.2L585.1,1043.5L585.9,1035.6L586.1,1035.4L586.4,1031.1L586.6,1035.0L586.9,1033.4L587.1,1034.0L587.4,1037.2L587.6,1037.3L587.9,1030.5L588.4,1027.0L588.6,1023.1L589.2,1024.8L589.4,1028.8L589.7,1029.7L589.9,1030.1L590.2,1031.5L590.4,1028.2L590.7,1030.5L590.9,1031.0L591.2,1035.4L591.4,1035.5L592.2,1038.6L592.5,1036.3L592.7,1036.7L593.0,1042.2L593.2,1038.4L593.5,1044.6L593.7,1043.7L594.0,1043.6L594.2,1044.0L594.5,1047.1L594.7,1047.4L595.0,1046.6L595.3,1047.5L595.5,1046.9L595.8,1044.0L596.0,1043.1L596.3,1044.2L596.8,1043.4L597.0,1043.7L597.3,1043.4L597.5,1043.7L597.8,1041.8L598.3,1044.8L599.1,1046.6L599.6,1050.0L599.8,1050.0L600.1,1050.8L600.3,1050.2L601.1,1051.6L601.7,1052.4L604.7,1054.8L606.7,1056.0L610.7,1057.4L614.7,1058.3L617.6,1058.6L623.9,1058.9L631.9,1059.1L685.4,1059.1L685.6,1069.2L687.5,1066.6L689.0,1065.0L690.9,1063.7L693.2,1062.6L696.4,1061.7L700.6,1060.8L711.0,1059.6L718.8,1059.1L791.2,1059.1L791.5,1040.7L793.2,1044.9L794.6,1048.1L797.4,1052.6L799.3,1055.1L800.8,1056.3L804.2,1058.2L806.5,1059.1L808.6,1059.5L823.2,1059.4L833.2,1059.1L897.1,1059.1L897.3,1050.1L899.7,1054.8L900.5,1056.0L901.4,1056.8L903.7,1058.0L905.8,1058.8L907.5,1059.1L911.1,1059.3L917.6,1059.6L924.4,1059.7L968.1,1059.1L1002.8,1059.1L1003.0,1056.8" stroke="#222" stroke-width="1.1" fill="none" stroke-linejoin="round"/>
<path d="M870.2,967.1H917.3" stroke="#777" stroke-width="1.3"/>
<path d="M870.2,992.7H917.3" stroke="#ff5050" stroke-width="1.3"/>
<path d="M870.2,1018.4H917.3" stroke="#4040ff" stroke-width="1.3"/>
<path d="M870.2,1044.1H917.3" stroke="#ff55ff" stroke-width="1.3"/>
<text x="922.5" y="968.5" font-family='"Liberation Serif", serif' font-size="17.5" font-style="italic">b<tspan font-size="13" dy="4">u</tspan></text>
<text x="922.5" y="994.1" font-family='"Liberation Serif", serif' font-size="17.5" font-style="italic">b<tspan font-size="13" dy="4">w</tspan></text>
<text x="922.5" y="1019.8" font-family='"Liberation Serif", serif' font-size="17.5" font-style="italic">b<tspan font-size="13" dy="5.5">δ</tspan><tspan font-size="10" dy="3">rot</tspan></text>
<text x="922.5" y="1045.5" font-family='"Liberation Serif", serif' font-size="17.5" font-style="italic">b<tspan font-size="13" dy="4">e</tspan></text>
<text x="791.90" y="1151.60" text-anchor="middle" font-family='"Liberation Serif", serif' font-size="20"><tspan font-style="italic">t</tspan>(s)</text>
<text x="770.90" y="1187.10" text-anchor="middle" font-family='"Liberation Serif", serif' font-size="25.5">(<tspan font-weight="bold">h</tspan>)</text>
</svg>
</body></html>
